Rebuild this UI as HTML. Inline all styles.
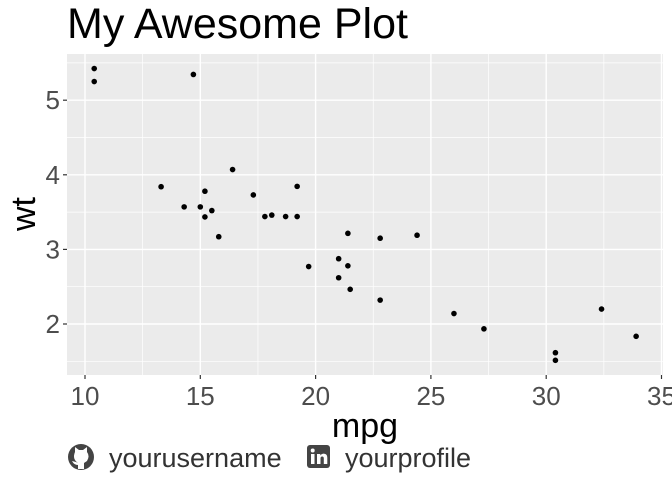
<!DOCTYPE html>
<html><head><meta charset="utf-8"><style>
body{margin:0;background:#fff;width:672px;height:480px;overflow:hidden;font-family:"Liberation Sans",sans-serif}
</style></head><body>
<svg id="chart" width="672" height="480" xmlns="http://www.w3.org/2000/svg">
<text x="67" y="38" font-size="43" fill="#000">My Awesome Plot</text>
<rect x="67" y="54" width="596" height="321" fill="#ebebeb"/>
<g id="grid"></g><g id="points"></g><g id="axes"></g>
<text x="365" y="437" font-size="34" text-anchor="middle">mpg</text>
<text transform="translate(35,214) rotate(-90)" font-size="34" text-anchor="middle">wt</text>
<g transform="translate(81,457)">
<circle r="13" fill="#444"/>
<path d="M-6,-5 L-6,-10 L-2,-7 L2,-7 L6,-10 L6,-5 Q9,-1 6,4 L3,6 L3,12 L-3,12 L-3,8 Q-7,8 -9,4 L-5,5 L-3,6 Q-9,2 -6,-5Z" fill="#fff"/>
</g>
<text x="109" y="467" font-size="27" fill="#333">yourusername</text>
<g transform="translate(307,445)">
<rect width="23" height="23" rx="3" fill="#444"/>
<rect x="4" y="9" width="3.5" height="10" fill="#fff"/><circle cx="5.7" cy="5.5" r="2" fill="#fff"/>
<path d="M10,9 h3.3 v1.5 q1.5,-2 4,-1.8 q3,0.3 3,4 v6.3 h-3.5 v-5.5 q0,-2 -1.6,-2 q-1.7,0 -1.7,2 v5.5 h-3.5z" fill="#fff"/>
</g>
<text x="345" y="467" font-size="27" fill="#333">yourprofile</text>
</svg>
<script>
const mpg=[21,21,22.8,21.4,18.7,18.1,14.3,24.4,22.8,19.2,17.8,16.4,17.3,15.2,10.4,10.4,14.7,32.4,30.4,33.9,21.5,15.5,15.2,13.3,19.2,27.3,26,30.4,15.8,19.7,15,21.4];
const wt=[2.62,2.875,2.32,3.215,3.44,3.46,3.57,3.19,3.15,3.44,3.44,4.07,3.73,3.78,5.25,5.424,5.345,2.2,1.615,1.835,2.465,3.52,3.435,3.84,3.845,1.935,2.14,1.513,3.17,2.77,3.57,2.78];
const xTicks=[10,15,20,25,30,35];
const yTicks=[2,3,4,5];
const xMinor=[12.5,17.5,22.5,27.5,32.5];
const yMinor=[1.5,2.5,3.5,4.5,5.5];
const X=v=>85+(v-10)*23.06, Y=v=>324-(v-2)*74.6;
const ns="http://www.w3.org/2000/svg";
function mk(p,t,a){const e=document.createElementNS(ns,t);for(const k in a)e.setAttribute(k,a[k]);document.getElementById(p).appendChild(e);return e;}
const L=67,R=663,T=54,B=375;
xMinor.forEach(v=>{if(X(v)<R){const e=mk('grid','line',{x1:X(v),x2:X(v),y1:T,y2:B,stroke:'#fff','stroke-width':0.7});

}});
yMinor.forEach(v=>{if(Y(v)>T){const e=mk('grid','line',{x1:L,x2:R,y1:Y(v),y2:Y(v),stroke:'#fff','stroke-width':0.7});

}});
xTicks.forEach(v=>{const x=X(v);
if(x<R){const g=mk('grid','line',{x1:x,x2:x,y1:T,y2:B,stroke:'#fff','stroke-width':1.4});

}
const t=mk('axes','line',{x1:x,x2:x,y1:B,y2:B+4,stroke:'#333','stroke-width':1.2});


const l=mk('axes','text',{x:x,y:B+30,'font-size':26,fill:'#4d4d4d','text-anchor':'middle'});l.textContent=v;

});
yTicks.forEach(v=>{const y=Y(v);
const g=mk('grid','line',{x1:L,x2:R,y1:y,y2:y,stroke:'#fff','stroke-width':1.4});


const t=mk('axes','line',{x1:L-4,x2:L,y1:y,y2:y,stroke:'#333','stroke-width':1.2});


const l=mk('axes','text',{x:L-7,y:y+9,'font-size':26,fill:'#4d4d4d','text-anchor':'end'});l.textContent=v;

});
mpg.forEach((m,i)=>{const c=mk('points','circle',{cx:X(m),cy:Y(wt[i]),r:2.8,fill:'#000'});

});
</script>
</body></html>
